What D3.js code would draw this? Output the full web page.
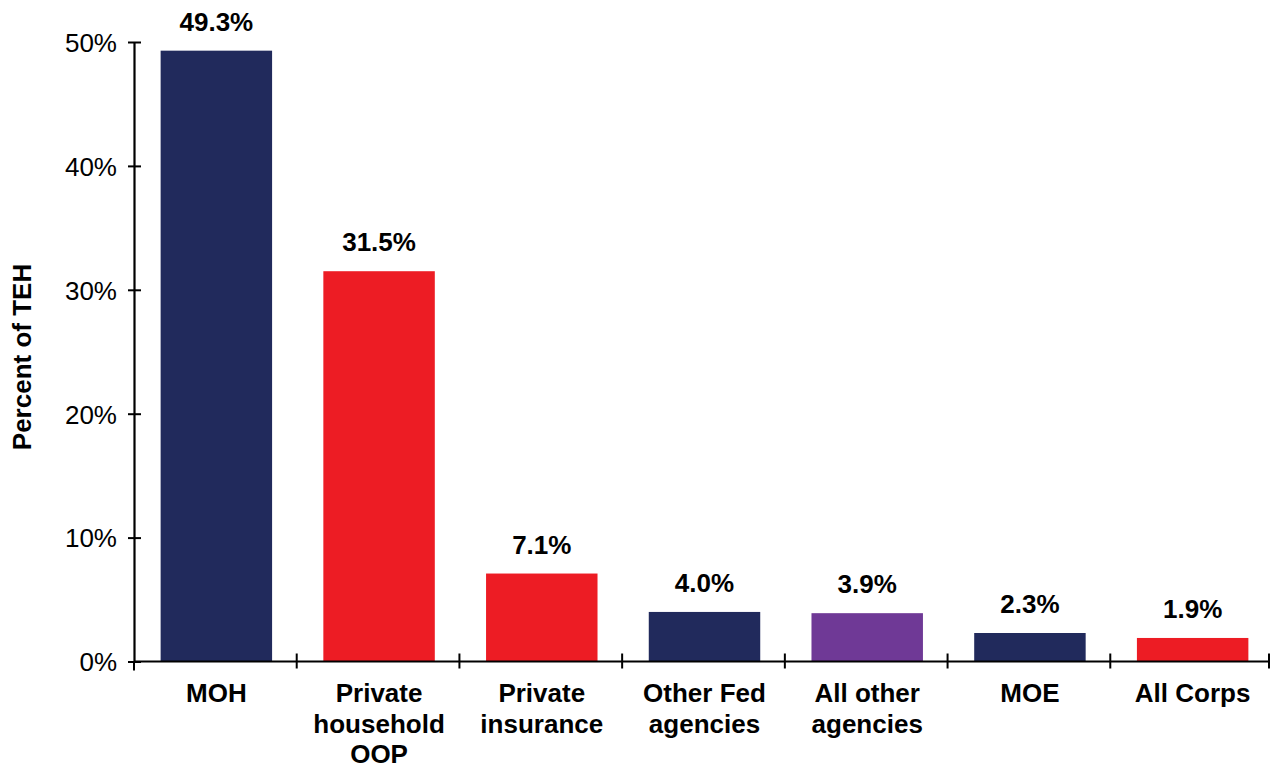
<!DOCTYPE html>
<html>
<head>
<meta charset="utf-8">
<script src="https://cdn.jsdelivr.net/npm/d3@7/dist/d3.min.js"></script>
<style>
  html, body { margin: 0; padding: 0; background: #fff; }
  svg { display: block; font-family: "Liberation Sans", Arial, sans-serif; }
</style>
</head>
<body>
<svg id="chart" width="1278" height="769"></svg>
<script>
// Share of total expenditure on health (TEH) by financing source
const categories = [
  ["MOH"],
  ["Private", "household", "OOP"],
  ["Private", "insurance"],
  ["Other Fed", "agencies"],
  ["All other", "agencies"],
  ["MOE"],
  ["All Corps"]
];
const values = [49.3, 31.5, 7.1, 4.0, 3.9, 2.3, 1.9];
const barColors = ["#212a5c", "#ed1c24", "#ed1c24", "#212a5c", "#6f3996", "#212a5c", "#ed1c24"];
const yTicks = [0, 10, 20, 30, 40, 50];

const svg = d3.select("#chart");
const x0 = 134, x1 = 1273, yBase = 661.5, yTop = 42;

const x = d3.scaleBand()
  .domain(d3.range(categories.length))
  .range([x0, x1])
  .paddingInner(0.315)
  .paddingOuter(0.1575);

const y = d3.scaleLinear().domain([0, 50]).range([yBase, yTop]);

// Bars
svg.append("g").selectAll("rect")
  .data(values)
  .join("rect")
  .attr("x", (d, i) => x(i) + 1)
  .attr("y", d => y(d))
  .attr("width", x.bandwidth())
  .attr("height", d => y(0) - y(d))
  .attr("fill", (d, i) => barColors[i]);

// Value labels
svg.append("g").selectAll("text")
  .data(values)
  .join("text")
  .attr("x", (d, i) => x(i) + 1 + x.bandwidth() / 2)
  .attr("y", d => y(d) - 20)
  .attr("text-anchor", "middle")
  .attr("font-size", 26)
  .attr("font-weight", "bold")
  .attr("fill", "#000")
  .text(d => d.toFixed(1) + "%");

// Y axis
const yAxis = svg.append("g")
  .attr("transform", `translate(${x0},0)`)
  .call(d3.axisLeft(y).tickValues(yTicks).tickFormat(d => d + "%").tickSize(6).tickSizeOuter(0));
yAxis.select(".domain").attr("stroke", "#000").attr("stroke-width", 2.2);
yAxis.selectAll(".tick line").attr("x1", -6).attr("x2", 7).attr("stroke", "#000").attr("stroke-width", 2);
yAxis.selectAll(".tick text")
  .attr("x", -17)
  .attr("dy", "0.36em")
  .attr("font-size", 26)
  .attr("font-family", "Liberation Sans, Arial, sans-serif")
  .attr("fill", "#000");

// X axis line with boundary ticks between categories
const boundaries = d3.range(categories.length + 1).map(i => x0 + i * x.step() * (i === categories.length ? 0.9965 : 1));
svg.append("line")
  .attr("x1", x0).attr("x2", boundaries[boundaries.length - 1])
  .attr("y1", yBase).attr("y2", yBase)
  .attr("stroke", "#000").attr("stroke-width", 2.2);
svg.append("g").selectAll("line")
  .data(boundaries)
  .join("line")
  .attr("x1", d => d).attr("x2", d => d)
  .attr("y1", (d, i) => i === 0 ? yBase : yBase - 8)
  .attr("y2", (d, i) => i === 0 ? yBase + 9 : yBase + 7)
  .attr("stroke", "#000").attr("stroke-width", 2);

// Category labels
const catG = svg.append("g").selectAll("text")
  .data(categories)
  .join("text")
  .attr("text-anchor", "middle")
  .attr("font-size", 26)
  .attr("font-weight", "bold")
  .attr("fill", "#000");
catG.each(function(lines, i) {
  const t = d3.select(this);
  lines.forEach((ln, k) => {
    t.append("tspan")
      .attr("x", x(i) + 1 + x.bandwidth() / 2)
      .attr("y", 702 + k * 30.5)
      .text(ln);
  });
});

// Y axis title
svg.append("text")
  .attr("transform", `translate(31,357) rotate(-90)`)
  .attr("text-anchor", "middle")
  .attr("font-size", 26)
  .attr("font-weight", "bold")
  .attr("fill", "#000")
  .text("Percent of TEH");
</script>
</body>
</html>
